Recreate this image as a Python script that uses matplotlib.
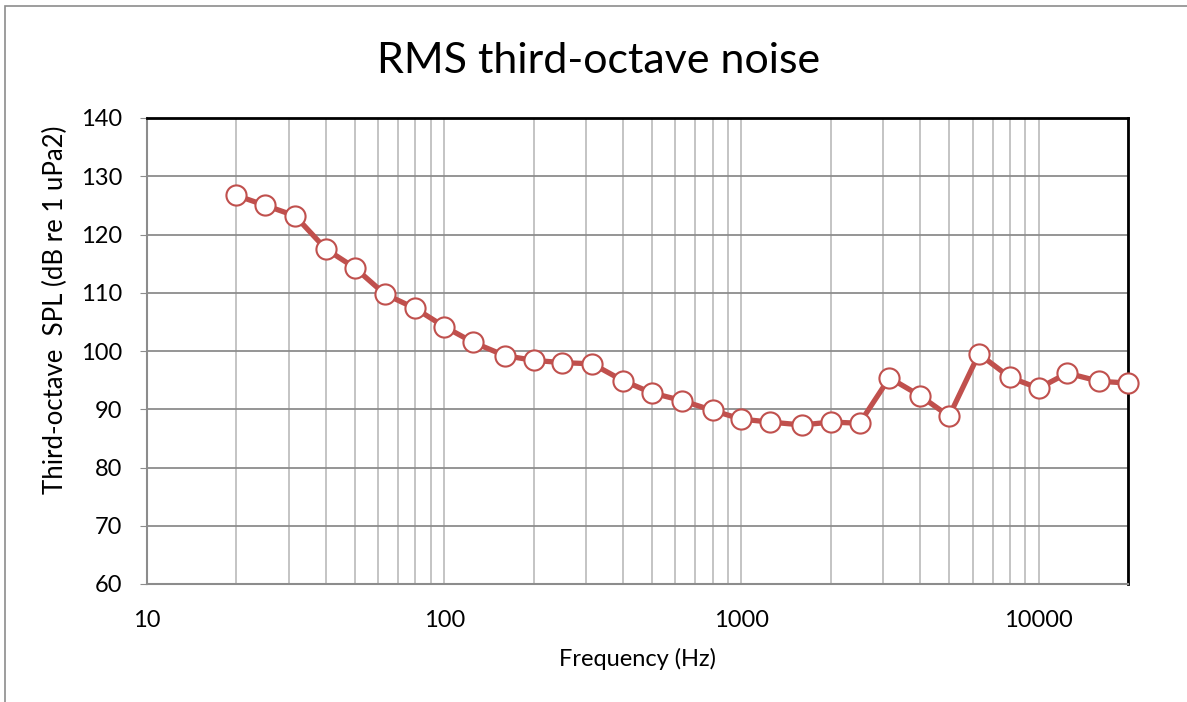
import matplotlib.pyplot as plt
from matplotlib.patches import Rectangle

# Third-octave band centre frequencies (Hz) and RMS levels (dB re 1 uPa2)
freqs = [20, 25, 31.5, 40, 50, 63, 80, 100, 125, 160, 200, 250, 315, 400, 500,
         630, 800, 1000, 1250, 1600, 2000, 2500, 3150, 4000, 5000, 6300, 8000,
         10000, 12500, 16000, 20000]
spl = [126.7, 125.0, 123.2, 117.5, 114.3, 109.8, 107.3, 104.2, 101.5, 99.2,
       98.4, 98.0, 97.8, 94.9, 92.8, 91.5, 89.8, 88.3, 87.8, 87.3, 87.8, 87.6,
       95.4, 92.3, 88.8, 99.5, 95.5, 93.6, 96.2, 94.8, 94.5]
y_ticks = [60, 70, 80, 90, 100, 110, 120, 130, 140]
x_ticks = [10, 100, 1000, 10000]
x_labels = ["10", "100", "1000", "10000"]

plt.rcParams['font.family'] = ['Lato', 'DejaVu Sans']

fig = plt.figure(figsize=(11.87, 7.02), dpi=100)
ax = fig.add_axes([147 / 1187, 1 - 584 / 702, (1128 - 147) / 1187, (584 - 118) / 702])

# chart area border (partly cut off in the original)
fig.patches.append(Rectangle((5 / 1187, -0.1), 1.2, 1 - 6 / 702 + 0.1,
                             transform=fig.transFigure, fill=False,
                             edgecolor='#8c8c8c', linewidth=1.2))

ax.plot(freqs, spl, '-o', color='#C0504D', linewidth=3.8, markersize=14.5,
        markerfacecolor='white', markeredgecolor='#C0504D', markeredgewidth=1.5,
        zorder=5, clip_on=False)

ax.set_xscale('log')
ax.set_xlim(10, 20000)
ax.set_ylim(60, 140)
ax.set_yticks(y_ticks)
ax.set_xticks(x_ticks)
ax.set_xticklabels(x_labels)
ax.tick_params(axis='y', labelsize=17, length=5, color='#8c8c8c', pad=13)
ax.tick_params(axis='x', which='both', length=0, labelsize=17, pad=19)

ax.grid(True, which='major', axis='y', color='#8c8c8c', linewidth=1.3)
ax.grid(True, which='both', axis='x', color='#bfbfbf', linewidth=1.3)
ax.set_axisbelow(True)

ax.spines['top'].set_color('black')
ax.spines['right'].set_color('black')
ax.spines['top'].set_linewidth(2)
ax.spines['right'].set_linewidth(2)
ax.spines['left'].set_color('#8c8c8c')
ax.spines['bottom'].set_color('#8c8c8c')
ax.spines['left'].set_linewidth(1.5)
ax.spines['bottom'].set_linewidth(1.5)

# title is centred on the chart area, not on the plot area
fig.text(599 / 1187, 1 - 61 / 702, "RMS third-octave noise", fontsize=31,
         ha='center', va='center')
ax.set_xlabel("Frequency (Hz)", fontsize=17, labelpad=12)
fig.text(55 / 1187, 1 - 310 / 702, "Third-octave  SPL (dB re 1 uPa2)",
         fontsize=18.5, rotation=90, ha='center', va='center')

fig.savefig("out.png", dpi=100)
